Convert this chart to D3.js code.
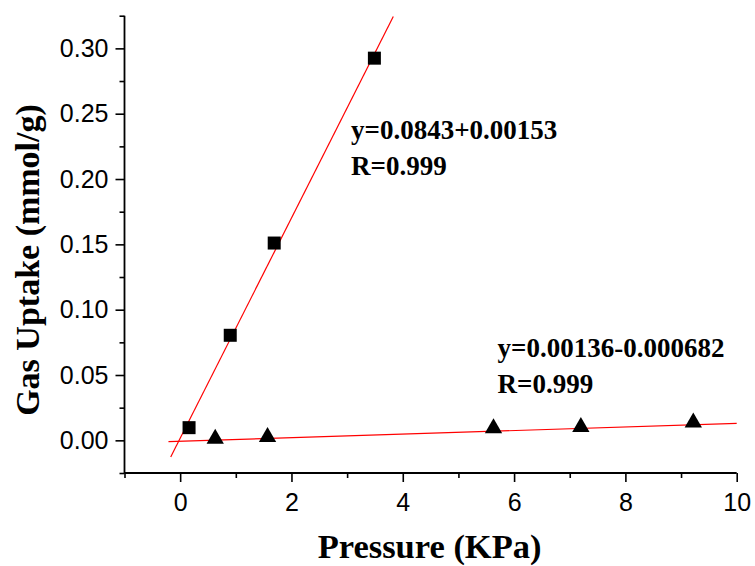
<!DOCTYPE html>
<html><head><meta charset="utf-8">
<script src="https://cdn.jsdelivr.net/npm/d3@7"></script>
<style>body{margin:0;background:#fff}svg{display:block}</style>
</head><body>
<script>
// Data
const squareX = [0.16, 0.90, 1.69, 3.49];
const squareY = [0.0097, 0.0804, 0.151, 0.2925];
const triX = [0.63, 1.57, 5.63, 7.20, 9.22];
const triY = [0.0013, 0.0025, 0.0092, 0.0102, 0.0136];
const fit1 = [[-0.17, -0.0128], [3.83, 0.3244]];
const fit2 = [[-0.21, -0.00097], [10.0, 0.01292]];
const xTicks = [0, 2, 4, 6, 8, 10];
const xMinor = [-1, 1, 3, 5, 7, 9];
const yTicks = [0.00, 0.05, 0.10, 0.15, 0.20, 0.25, 0.30];
const yMinor = [-0.025, 0.025, 0.075, 0.125, 0.175, 0.225, 0.275, 0.325];
const eq1 = ["y=0.0843+0.00153", "R=0.999"];
const eq2 = ["y=0.00136-0.000682", "R=0.999"];
const xTitle = "Pressure (KPa)";
const yTitle = "Gas Uptake (mmol/g)";

const W = 755, H = 566;
const L = 124.5, R = 736.7, T = 15.7, B = 473;
const svg = d3.select("body").append("svg").attr("width", W).attr("height", H);
const x = d3.scaleLinear().domain([-1, 10]).range([L, R]);
const y = d3.scaleLinear().domain([-0.025, 0.325]).range([B, T]);

// fit lines
const line = d3.line().x(d => x(d[0])).y(d => y(d[1]));
[fit1, fit2].forEach(f => {
  svg.append("path").attr("d", line(f)).attr("fill", "none")
    .attr("stroke", "#ff0000").attr("stroke-width", 1.2);
});

// squares
const sq = 13;
svg.selectAll("rect.sq").data(squareX.map((v, i) => [v, squareY[i]])).enter()
  .append("rect").attr("class", "sq")
  .attr("x", d => x(d[0]) - sq / 2).attr("y", d => y(d[1]) - sq / 2)
  .attr("width", sq).attr("height", sq).attr("fill", "#000");

// triangles
const tri = d3.symbol().type(d3.symbolTriangle).size(130);
svg.selectAll("path.tri").data(triX.map((v, i) => [v, triY[i]])).enter()
  .append("path").attr("class", "tri").attr("d", tri)
  .attr("transform", d => `translate(${x(d[0])},${y(d[1])})`).attr("fill", "#000");

// axes
const fontTick = "'Liberation Sans', Arial, sans-serif";
const xAxis = svg.append("g").attr("transform", `translate(0,${B})`)
  .call(d3.axisBottom(x).tickValues(xTicks).tickSize(9).tickPadding(11).tickFormat(d3.format("d")));
const xMin = svg.append("g").attr("transform", `translate(0,${B})`)
  .call(d3.axisBottom(x).tickValues(xMinor).tickSize(5).tickFormat(""));
const yAxis = svg.append("g").attr("transform", `translate(${L},0)`)
  .call(d3.axisLeft(y).tickValues(yTicks).tickSize(9).tickPadding(7).tickFormat(d3.format(".2f")));
const yMin = svg.append("g").attr("transform", `translate(${L},0)`)
  .call(d3.axisLeft(y).tickValues(yMinor).tickSize(5).tickFormat(""));
[xAxis, xMin, yAxis, yMin].forEach(g => {
  g.select(".domain").attr("stroke", "#000").attr("stroke-width", 1.8);
  g.selectAll(".tick line").attr("stroke", "#000").attr("stroke-width", 1.6);
  g.selectAll("text").attr("font-family", fontTick).attr("font-size", 25).attr("fill", "#000");
});
[xMin, yMin].forEach(g => g.select(".domain").remove());
xAxis.select(".domain").attr("d", `M${L},0H${R}`);
yAxis.select(".domain").attr("d", `M0,${B}V${T}`);

// titles
const serif = "'Liberation Serif', 'Times New Roman', serif";
svg.append("text").attr("x", (L + R) / 2 - 1).attr("y", 558).attr("text-anchor", "middle")
  .attr("font-family", serif).attr("font-weight", "bold").attr("font-size", 34.5).text(xTitle);
svg.append("text").attr("transform", `translate(39,260) rotate(-90)`).attr("text-anchor", "middle")
  .attr("font-family", serif).attr("font-weight", "bold").attr("font-size", 34).text(yTitle);

// equations
function eq(lines, x0, y0) {
  lines.forEach((t, i) => {
    svg.append("text").attr("x", x0).attr("y", y0 + i * 36)
      .attr("font-family", serif).attr("font-weight", "bold").attr("font-size", 27).text(t);
  });
}
eq(eq1, 351, 138.5);
eq(eq2, 497.5, 357);
</script>
</body></html>
